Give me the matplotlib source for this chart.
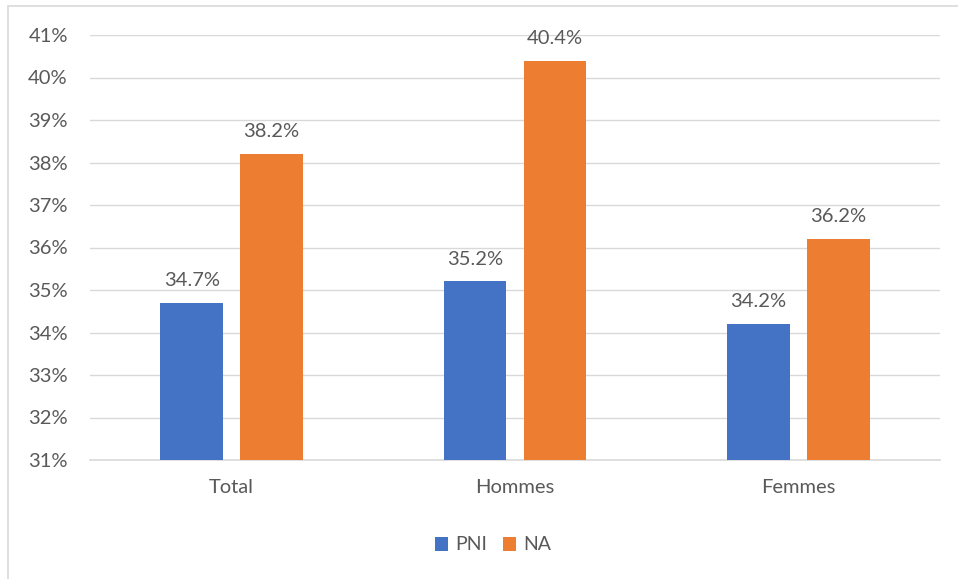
import matplotlib
matplotlib.use("Agg")
import matplotlib.pyplot as plt
from matplotlib.patches import Rectangle
from matplotlib.ticker import FuncFormatter
import numpy as np

categories = ["Total", "Hommes", "Femmes"]
pni = [34.7, 35.2, 34.2]
na = [38.2, 40.4, 36.2]
series_names = ["PNI", "NA"]

plt.rcParams["font.family"] = ["Lato", "DejaVu Sans"]
text_color = "#595959"
blue = "#4472C4"
orange = "#ED7D31"
fs = 14.5

fig = plt.figure(figsize=(9.58, 5.79), dpi=100)
ax = fig.add_axes([90 / 958, 1 - 460 / 579, 850 / 958, 425 / 579])

# chart frame
fig.patches.append(Rectangle((8 / 958, -0.1), 1.2, 1 - 6 / 579 + 0.1,
                             transform=fig.transFigure, fill=False,
                             edgecolor="#D9D9D9", linewidth=1.2))

x = np.arange(len(categories))
w = 0.222
gap = 0.06
b1 = ax.bar(x - (w + gap) / 2, pni, w, color=blue, label=series_names[0], zorder=3)
b2 = ax.bar(x + (w + gap) / 2, na, w, color=orange, label=series_names[1], zorder=3)

for bars, vals in ((b1, pni), (b2, na)):
    for rect, v in zip(bars, vals):
        ax.annotate(f"{v:.1f}%", (rect.get_x() + rect.get_width() / 2, v),
                    xytext=(0, 10), textcoords="offset points",
                    ha="center", va="bottom", fontsize=fs, color=text_color)

ax.set_ylim(31, 41)
ax.set_xlim(-0.5, 2.5)
ax.set_yticks(np.arange(31, 42, 1))
ax.yaxis.set_major_formatter(FuncFormatter(lambda v, p: f"{v:.0f}%"))
ax.set_xticks(x)
ax.set_xticklabels(categories)
ax.tick_params(axis="both", length=0, colors=text_color, labelsize=fs)
ax.tick_params(axis="y", pad=16)
ax.tick_params(axis="x", pad=14)
ax.grid(axis="y", color="#D9D9D9", linewidth=1, zorder=0)
for s in ("top", "right", "left"):
    ax.spines[s].set_visible(False)
ax.spines["bottom"].set_color("#D9D9D9")
ax.spines["bottom"].set_linewidth(1.2)

leg = fig.legend(loc="center", bbox_to_anchor=(493 / 958, 1 - 545 / 579), ncol=2,
                 frameon=False, fontsize=14, handlelength=0.7, handleheight=0.7,
                 columnspacing=0.8, handletextpad=0.35, labelcolor=text_color)

fig.savefig("out.png", dpi=100)
